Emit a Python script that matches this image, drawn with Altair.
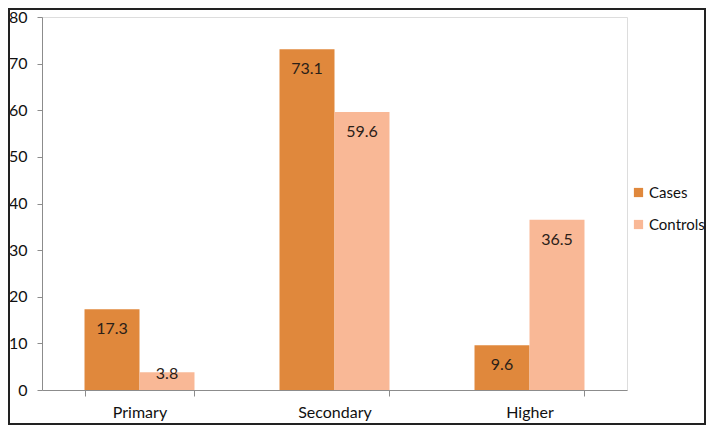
import altair as alt
import pandas as pd

levels = ["Primary", "Secondary", "Higher"]
groups = ["Cases", "Controls"]
cases = [17.3, 73.1, 9.6]
controls = [3.8, 59.6, 36.5]
colors = ["#E0883C", "#F9B896"]

rows = []
for i, lv in enumerate(levels):
    rows.append({"level": lv, "group": "Cases", "value": cases[i]})
    rows.append({"level": lv, "group": "Controls", "value": controls[i]})
df = pd.DataFrame(rows)

font = "Lato"

x = alt.X("level:N", sort=levels, title=None,
          scale=alt.Scale(paddingInner=0.436, paddingOuter=0.218),
          axis=alt.Axis(labelAngle=0, labelFontSize=16, labelFont=font, labelColor="#111",
                        domainColor="#8c8c8c", tickColor="#8c8c8c", tickSize=6,
                        tickBand="extent", labelPadding=8))
xo = alt.XOffset("group:N", sort=groups)
y = alt.Y("value:Q", title=None,
          scale=alt.Scale(domain=[0, 80]),
          axis=alt.Axis(values=[0, 10, 20, 30, 40, 50, 60, 70, 80], grid=False,
                        labelFontSize=16, labelFont=font, labelColor="#111",
                        domainColor="#8c8c8c", tickColor="#8c8c8c", tickSize=5,
                        labelPadding=10))

base = alt.Chart(df)
bars = base.mark_bar().encode(
    x=x, xOffset=xo, y=y,
    color=alt.Color("group:N", sort=groups, scale=alt.Scale(domain=groups, range=colors),
                    legend=alt.Legend(title=None, orient="none", legendX=589, legendY=168,
                                      symbolType="square", symbolSize=85, symbolStrokeWidth=0,
                                      labelFontSize=15, labelFont=font, labelColor="#111",
                                      rowPadding=16, labelOffset=3)),
)
labels = base.transform_calculate(
    labelpos="datum.value < 7.7 ? 7.7 : datum.value"
).mark_text(baseline="top", dy=12, fontSize=16, font=font, color="#2a2018").encode(
    x=x, xOffset=xo,
    y=alt.Y("labelpos:Q", scale=alt.Scale(domain=[0, 80])),
    text=alt.Text("value:Q", format=".1f"),
)

frame = alt.Chart(pd.DataFrame({"a": [0]})).mark_rect(
    fill=None, stroke="#222", strokeWidth=2
).encode(x=alt.value(-33), x2=alt.value(663), y=alt.value(-8), y2=alt.value(407))

chart = alt.layer(bars, labels, frame).properties(
    width=585, height=373,
    autosize=alt.AutoSizeParams(type="none"),
    padding={"left": 34, "top": 9, "right": 79, "bottom": 35},
).configure_view(stroke=None).configure(background="white")

chart.save("out.html", embed_options={"renderer": "svg", "actions": False})
